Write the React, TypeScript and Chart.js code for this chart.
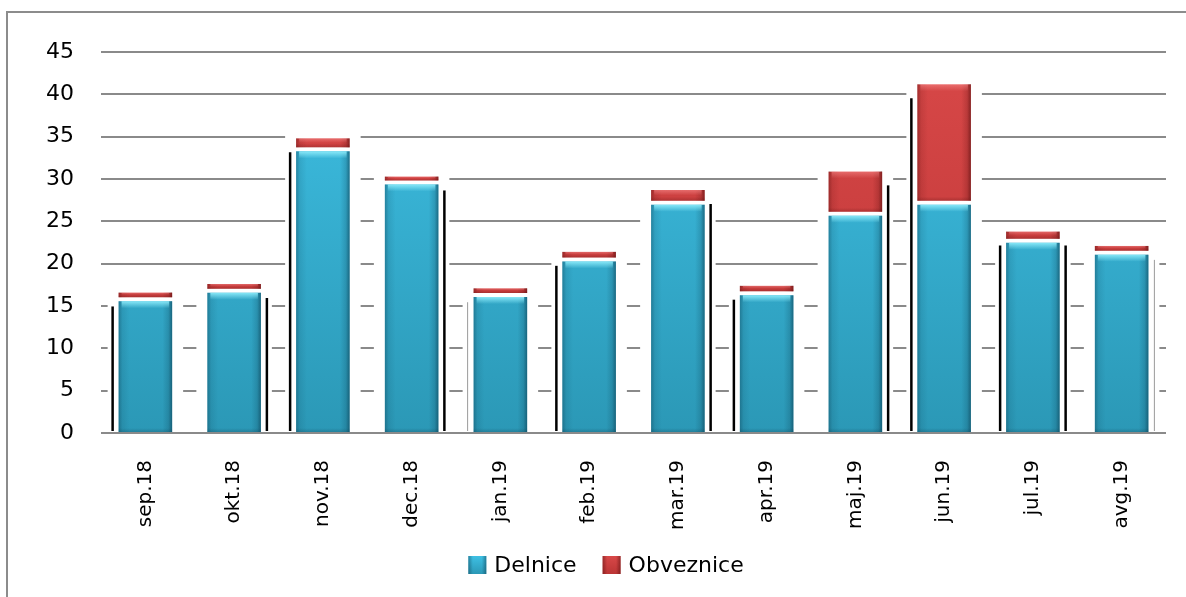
import React, { useEffect, useRef } from "react";
import { Chart, registerables } from "chart.js";

Chart.register(...registerables);

const categories = ["sep.18", "okt.18", "nov.18", "dec.18", "jan.19", "feb.19", "mar.19", "apr.19", "maj.19", "jun.19", "jul.19", "avg.19"];
const delnice = [15.8, 16.8, 33.5, 29.6, 16.3, 20.5, 27.2, 16.5, 25.9, 27.2, 22.7, 21.3];
const obveznice = [0.8, 0.8, 1.3, 0.7, 0.8, 0.9, 1.5, 0.9, 5.0, 14.0, 1.1, 0.8];
const seriesNames = ["Delnice", "Obveznice"];
const yMin = 0;
const yMax = 45;
const yStep = 5;

// style: which side of each bar shows the dark shadow artefact
const shadowSides = ["L", "R", "L", "R", "l", "L", "R", "L", "R", "L", "LR", "r"];

const FONT = "'DejaVu Sans', sans-serif";
const BLUE_TOP = "#3ec0e4";
const BLUE_BOT = "#2b98b6";
const RED_TOP = "#d84848";
const RED_BOT = "#bb3535";

function vGrad(chart: any, top: string, bot: string, fallback: string) {
  const area = chart.chartArea;
  if (!area) return fallback;
  const g = chart.ctx.createLinearGradient(0, area.top, 0, area.bottom);
  g.addColorStop(0, top);
  g.addColorStop(1, bot);
  return g;
}

const decorPlugin = {
  id: "decor",
  beforeDraw(chart: any) {
    const ctx = chart.ctx;
    ctx.save();
    ctx.fillStyle = "#ffffff";
    ctx.fillRect(0, 0, chart.width, chart.height);
    ctx.strokeStyle = "#8c8c8c";
    ctx.lineWidth = 2;
    ctx.beginPath();
    ctx.moveTo(7, chart.height);
    ctx.lineTo(7, 12);
    ctx.lineTo(chart.width, 12);
    ctx.stroke();
    ctx.restore();
  },
  beforeDatasetsDraw(chart: any) {
    const m0 = chart.getDatasetMeta(0);
    const m1 = chart.getDatasetMeta(1);
    const ctx = chart.ctx;
    ctx.save();
    m0.data.forEach((el: any, i: number) => {
      const top = Math.min(el.y, m1.data[i].y);
      const half = el.width / 2;
      ctx.fillStyle = "#ffffff";
      ctx.fillRect(el.x - half - 9, top - 4, el.width + 18, el.base - 1.5 - (top - 4));
      const side = shadowSides[i] || "";
      const drawLine = (x: number, dark: boolean) => {
        ctx.strokeStyle = dark ? "#000000" : "#9a9a9a";
        ctx.lineWidth = dark ? 2.5 : 1;
        ctx.beginPath();
        ctx.moveTo(x, top + 14);
        ctx.lineTo(x, el.base - 1);
        ctx.stroke();
      };
      if (side.includes("L")) drawLine(el.x - half - 4, true);
      if (side.includes("R")) drawLine(el.x + half + 4, true);
      if (side.includes("l")) drawLine(el.x - half - 4, false);
      if (side.includes("r")) drawLine(el.x + half + 4, false);
    });
    ctx.restore();
  },
  afterDatasetsDraw(chart: any) {
    const ctx = chart.ctx;
    ctx.save();
    [0, 1].forEach((di) => {
      const meta = chart.getDatasetMeta(di);
      meta.data.forEach((el: any) => {
        const x0 = el.x - el.width / 2 + 2;
        const x1 = el.x + el.width / 2 - 2;
        const y0 = di === 0 ? el.y + 2 : el.y;
        const y1 = di === 1 ? el.base - 2 : el.base;
        if (y1 - y0 <= 0) return;
        const dark = di === 0 ? "10,60,80" : "80,10,10";
        const hg = ctx.createLinearGradient(x0, 0, x1, 0);
        hg.addColorStop(0, `rgba(${dark},0.4)`);
        hg.addColorStop(0.07, `rgba(${dark},0.12)`);
        hg.addColorStop(0.2, `rgba(${dark},0)`);
        hg.addColorStop(0.82, `rgba(${dark},0)`);
        hg.addColorStop(0.93, `rgba(${dark},0.2)`);
        hg.addColorStop(1, `rgba(${dark},0.6)`);
        ctx.fillStyle = hg;
        ctx.fillRect(x0, y0, x1 - x0, y1 - y0);
        const hl = Math.min(7, (y1 - y0) / 2);
        const light = di === 0 ? "140,235,250" : "255,150,150";
        const tg = ctx.createLinearGradient(0, y0, 0, y0 + hl);
        tg.addColorStop(0, `rgba(${light},${di === 0 ? 0.95 : 0.5})`);
        tg.addColorStop(1, `rgba(${light},0)`);
        ctx.fillStyle = tg;
        ctx.fillRect(x0 + 3, y0, x1 - x0 - 6, hl);
        const bl = Math.min(4, (y1 - y0) / 2);
        const bg = ctx.createLinearGradient(0, y1 - bl, 0, y1);
        bg.addColorStop(0, `rgba(${dark},0)`);
        bg.addColorStop(1, `rgba(${dark},0.25)`);
        ctx.fillStyle = bg;
        ctx.fillRect(x0, y1 - bl, x1 - x0, bl);
      });
    });
    ctx.restore();
  },
  afterDraw(chart: any) {
    const ctx = chart.ctx;
    ctx.save();
    ctx.font = `22px ${FONT}`;
    const box = 18;
    const gapText = 8;
    const gapItem = 26;
    const colors = [
      [BLUE_TOP, BLUE_BOT, "10,60,80"],
      [RED_TOP, RED_BOT, "80,10,10"],
    ];
    const widths = seriesNames.map((n) => ctx.measureText(n).width);
    const total = widths.reduce((a, w) => a + box + gapText + w, 0) + gapItem * (seriesNames.length - 1);
    let x = 606 - total / 2;
    const cy = 565;
    seriesNames.forEach((name, i) => {
      const g = ctx.createLinearGradient(0, cy - box / 2, 0, cy + box / 2);
      g.addColorStop(0, colors[i][0]);
      g.addColorStop(1, colors[i][1]);
      ctx.fillStyle = g;
      ctx.fillRect(x, cy - box / 2, box, box);
      const hg = ctx.createLinearGradient(x, 0, x + box, 0);
      hg.addColorStop(0, `rgba(${colors[i][2]},0.45)`);
      hg.addColorStop(0.25, `rgba(${colors[i][2]},0)`);
      hg.addColorStop(0.75, `rgba(${colors[i][2]},0)`);
      hg.addColorStop(1, `rgba(${colors[i][2]},0.5)`);
      ctx.fillStyle = hg;
      ctx.fillRect(x, cy - box / 2, box, box);
      ctx.fillStyle = "#000000";
      ctx.textBaseline = "middle";
      ctx.textAlign = "left";
      ctx.fillText(name, x + box + gapText, cy + 1);
      x += box + gapText + widths[i] + gapItem;
    });
    ctx.restore();
  },
};

export default function App() {
  const ref = useRef<HTMLCanvasElement | null>(null);
  useEffect(() => {
    if (!ref.current) return;
    const chart = new Chart(ref.current, {
      type: "bar",
      data: {
        labels: categories,
        datasets: [
          {
            label: seriesNames[0],
            data: delnice,
            backgroundColor: (c: any) => vGrad(c.chart, BLUE_TOP, BLUE_BOT, BLUE_TOP),
            borderColor: "#ffffff",
            borderWidth: { top: 2, left: 2, right: 2, bottom: 0 },
            borderSkipped: false,
            categoryPercentage: 1,
            barPercentage: 0.648,
          },
          {
            label: seriesNames[1],
            data: obveznice,
            backgroundColor: (c: any) => vGrad(c.chart, RED_TOP, RED_BOT, RED_TOP),
            borderColor: "#ffffff",
            borderWidth: { top: 0, left: 2, right: 2, bottom: 2 },
            borderSkipped: false,
            categoryPercentage: 1,
            barPercentage: 0.648,
          },
        ],
      },
      options: {
        responsive: false,
        animation: false,
        devicePixelRatio: 1,
        layout: { padding: { top: 52, right: 20, bottom: 0, left: 0 } },
        plugins: {
          legend: { display: false },
          tooltip: { enabled: false },
        },
        scales: {
          x: {
            stacked: true,
            grid: { display: false },
            border: { display: false },
            ticks: {
              maxRotation: 90,
              minRotation: 90,
              padding: 19,
              color: "#000000",
              font: { family: FONT, size: 20 },
            },
            afterFit: (s: any) => {
              s.height = 164;
            },
          },
          y: {
            stacked: true,
            min: yMin,
            max: yMax,
            border: { display: false },
            grid: { color: "#8a8a8a", lineWidth: 2, drawTicks: false },
            ticks: {
              stepSize: yStep,
              padding: 27,
              color: "#000000",
              font: { family: FONT, size: 22 },
            },
            afterFit: (s: any) => {
              s.width = 101;
            },
          },
        },
      },
      plugins: [decorPlugin],
    } as any);
    return () => chart.destroy();
  }, []);
  return (
    <canvas
      ref={ref}
      width={1186}
      height={597}
      style={{ position: "absolute", left: 0, top: 0, width: 1186, height: 597 }}
    />
  );
}
